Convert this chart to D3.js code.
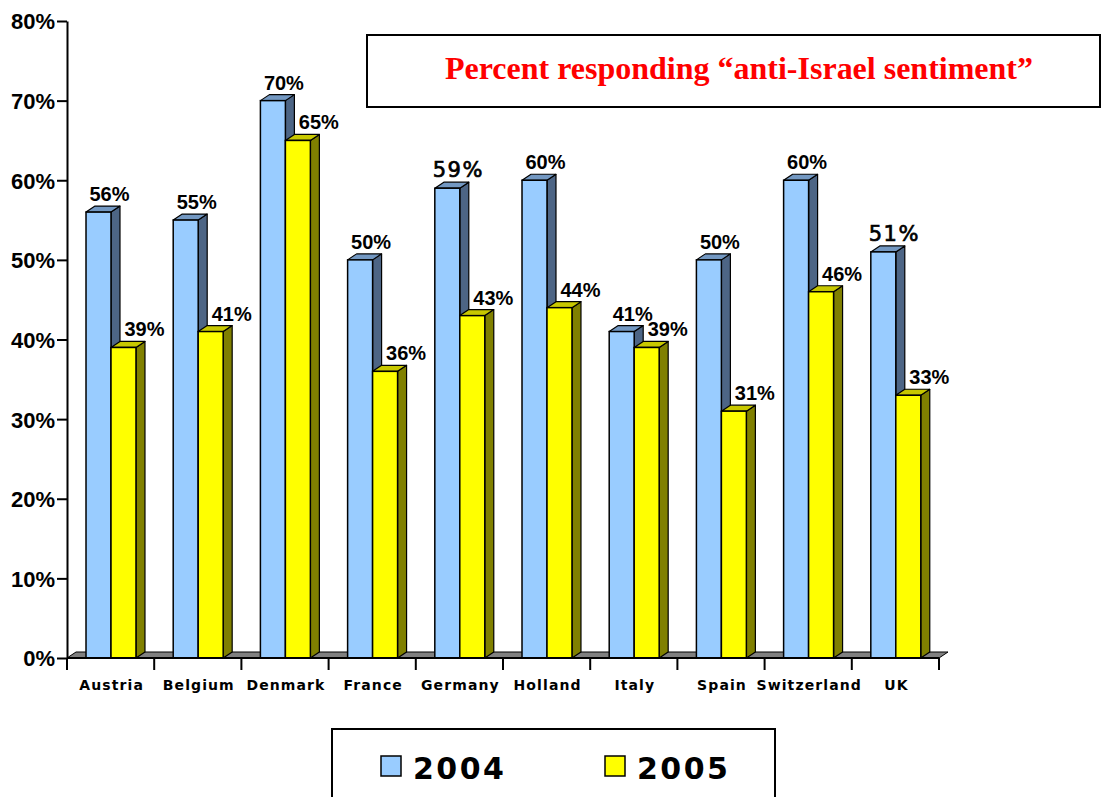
<!DOCTYPE html>
<html><head><meta charset="utf-8">
<script src="https://cdn.jsdelivr.net/npm/d3@7"></script>
<style>html,body{margin:0;padding:0;background:#fff;}svg{display:block;}</style>
</head><body>
<svg id="chart" width="1104" height="797"></svg>
<script>
const categories = ["Austria","Belgium","Denmark","France","Germany","Holland","Italy","Spain","Switzerland","UK"];
const series = ["2004","2005"];
const values2004 = [56,55,70,50,59,60,41,50,60,51];
const values2005 = [39,41,65,36,43,44,39,31,46,33];
const yTicks = [0,10,20,30,40,50,60,70,80];
const title = "Percent responding \u201canti-Israel sentiment\u201d";
const altFontLabels = ["Germany-2004","UK-2004"];

const colors = {
  "2004": {front:"#99CCFF", side:"#4D6585", top:"#7398C2"},
  "2005": {front:"#FFFF00", side:"#808000", top:"#C8C800"}
};

const svg = d3.select("#chart");
const L = 67, R = 939, T = 21, B = 658;
const DX = 9, DY = -6;

const x = d3.scaleBand().domain(categories).range([L, R]).padding(0);
const bw = x.bandwidth();
const xs = d3.scaleBand().domain(series).range([bw*0.218, bw*0.791]).padding(0);
const y = d3.scaleLinear().domain([0,80]).range([B, T]);

const data = categories.map((c,i)=>({cat:c, vals:[{s:"2004",v:values2004[i]},{s:"2005",v:values2005[i]}]}));

// floor
svg.append("polygon")
  .attr("points", [[L,B],[L+DX,B+DY],[R+DX,B+DY],[R,B]].map(p=>p.join(",")).join(" "))
  .attr("fill","#808080").attr("stroke","#000").attr("stroke-width",1);

// bars
const g = svg.append("g");
data.forEach(d=>{
  d.vals.forEach(b=>{
    const x0 = x(d.cat) + xs(b.s), x1 = x0 + xs.bandwidth();
    const y0 = y(b.v), yb = y(0);
    const c = colors[b.s];
    g.append("polygon").attr("points",[[x1,yb],[x1+DX,yb+DY],[x1+DX,y0+DY],[x1,y0]].map(p=>p.join(",")).join(" "))
      .attr("fill",c.side).attr("stroke","#000").attr("stroke-width",1.2).attr("stroke-linejoin","round");
    g.append("polygon").attr("points",[[x0,y0],[x0+DX,y0+DY],[x1+DX,y0+DY],[x1,y0]].map(p=>p.join(",")).join(" "))
      .attr("fill",c.top).attr("stroke","#000").attr("stroke-width",1.2).attr("stroke-linejoin","round");
    g.append("rect").attr("x",x0).attr("y",y0).attr("width",x1-x0).attr("height",yb-y0)
      .attr("fill",c.front).attr("stroke","#000").attr("stroke-width",1.5);
  });
});

// value labels
data.forEach(d=>{
  d.vals.forEach(b=>{
    const x0 = x(d.cat) + xs(b.s);
    const cx = x0 + xs.bandwidth()/2 + (b.s==="2004" ? 11 : 21);
    const alt = altFontLabels.includes(d.cat+"-"+b.s);
    svg.append("text").attr("x",cx).attr("y",y(b.v) - 11)
      .attr("text-anchor","middle")
      .attr("font-family", alt ? "DejaVu Sans, Verdana, sans-serif" : "Liberation Sans, Arial, sans-serif")
      .attr("font-weight", alt ? "normal" : "bold")
      .attr("font-size", alt ? 21 : 20)
      .attr("letter-spacing", alt ? 1.5 : 0)
      .attr("stroke", alt ? "#000" : "none").attr("stroke-width", alt ? 0.7 : 0)
      .attr("fill","#000")
      .text(b.v + "%");
  });
});

// y axis
const yAxis = d3.axisLeft(y).tickValues(yTicks).tickFormat(d=>d+"%").tickSize(10).tickSizeOuter(0).tickPadding(2);
const ya = svg.append("g").attr("transform",`translate(${L},0)`).call(yAxis);
ya.select(".domain").attr("stroke","#000").attr("stroke-width",2);
ya.selectAll(".tick line").attr("stroke","#000").attr("stroke-width",2);
ya.selectAll(".tick text").attr("font-family","Liberation Sans, Arial, sans-serif").attr("font-weight","bold").attr("font-size",22).attr("fill","#000").attr("dy","0.36em");

// x axis front line and ticks
svg.append("line").attr("x1",L).attr("x2",R).attr("y1",B).attr("y2",B).attr("stroke","#000").attr("stroke-width",2);
const bounds = categories.map(c=>x(c)).concat([x(categories[categories.length-1])+bw]);
svg.selectAll(".xtick").data(bounds).enter().append("line")
  .attr("x1",d=>d).attr("x2",d=>d).attr("y1",B).attr("y2",B+12).attr("stroke","#000").attr("stroke-width",2);
svg.selectAll(".xlabel").data(categories).enter().append("text")
  .attr("x",d=>x(d)+bw/2+1).attr("y",B+32).attr("text-anchor","middle")
  .attr("font-family","DejaVu Sans, Verdana, sans-serif").attr("font-weight","bold").attr("font-size",14)
  .attr("letter-spacing",1.1).attr("fill","#000").text(d=>d);

// title box
svg.append("rect").attr("x",367).attr("y",35).attr("width",733).attr("height",72).attr("fill","#fff").attr("stroke","#000").attr("stroke-width",2);
svg.append("text").attr("x",739).attr("y",79).attr("text-anchor","middle")
  .attr("font-family","Liberation Serif, Times New Roman, serif").attr("font-weight","bold").attr("font-size",31)
  .attr("fill","#FF0000").attr("textLength",588).attr("lengthAdjust","spacingAndGlyphs").text(title);

// legend
svg.append("rect").attr("x",332).attr("y",729).attr("width",443).attr("height",80).attr("fill","#fff").attr("stroke","#000").attr("stroke-width",2);
const legX = [381, 605];
series.forEach((s,i)=>{
  svg.append("rect").attr("x",legX[i]).attr("y",756).attr("width",20).attr("height",20)
    .attr("fill",colors[s].front).attr("stroke","#000").attr("stroke-width",1.5);
  svg.append("text").attr("x",legX[i]+32).attr("y",779)
    .attr("font-family","DejaVu Sans, Verdana, sans-serif").attr("font-weight","bold").attr("font-size",30)
    .attr("letter-spacing",2.5).attr("fill","#000").text(s);
});
</script>
</body></html>
